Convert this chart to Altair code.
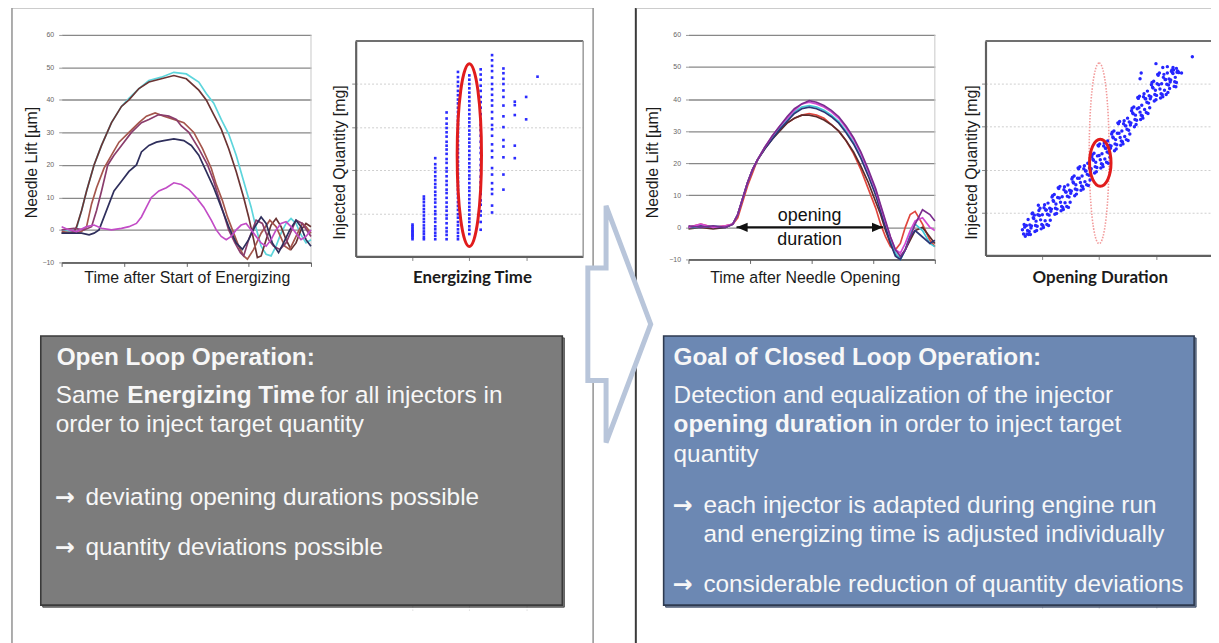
import altair as alt
import pandas as pd

# ------------------------------------------------------------------ data
# Open loop: needle lift traces of five injectors (t = % of displayed window, lift in µm)
LL_CYAN_T = [0, 4, 6, 8, 10, 13, 16, 20, 24, 27, 31, 35, 40, 45, 50, 55, 58, 61, 64, 67, 70, 73, 76, 78, 80, 82, 84, 86, 88, 90, 92, 94, 96, 98, 100]
LL_CYAN_V = [0, -0.5, 0.5, 6, 12, 20, 26, 33, 38, 40.5, 43.5, 46, 47, 48.5, 48, 45.5, 42, 39, 34, 29.5, 23, 15, 7, 0.5, -5, -7.5, -8, -5, -1, 2, 3.5, 2, -1.5, -4, -3]
LL_BROWN_T = [0, 3, 5, 6, 8, 10, 13, 16, 20, 24, 27, 31, 35, 40, 45, 50, 55, 58, 61, 64, 67, 70, 73, 75, 77, 78.5, 80, 82, 84, 86, 88, 90, 92, 94, 96, 98, 100]
LL_BROWN_V = [-1, -1, -0.5, 1, 6, 12, 20, 26, 33, 38, 40, 43.5, 45.5, 46.5, 47.5, 46.5, 43, 40, 35.5, 31, 25, 18, 10, 4, -3, -8.5, -8, -3, 1.5, 3.5, 1, -3, -6, -4, 0, 2, 1]
LL_RED_T = [0, 5, 8, 10, 12, 14, 17, 20, 23, 27, 31, 34, 37.5, 41, 45, 49, 53, 56.5, 60, 62, 64.5, 66.5, 68.5, 71, 73, 74.5, 77, 80, 83.5, 86, 89.5, 91.5, 94, 96.5, 98, 100]
LL_RED_V = [-0.5, -1, -0.5, 1, 8, 13, 19, 23, 27, 30, 33, 35, 36, 35, 34, 33, 30, 25, 19, 14, 9, 4, 0, -5, -8, -9, -6, -1, 3, 1, -5, -6, -2, 2, 1, -1]
LL_PURPLE_T = [0, 5, 9, 12, 14, 16, 18.5, 21, 24, 28, 32, 35, 39, 43, 46, 48, 51, 55, 58.5, 61, 63, 65, 67, 69.5, 71.7, 73, 75, 78, 80.5, 83, 85, 87.5, 90, 94, 96.5, 100]
LL_PURPLE_V = [0, 0.5, 0, 1, 6, 12, 20, 23, 26, 30, 33, 34, 35.5, 35, 34, 32, 30, 25, 20, 15, 10, 5, 0, -4, -7, -8, -3, 3, 2, -3, -5, -6, -4, 3, 2, -2]
LL_NAVY_T = [0, 5, 8, 11, 13, 15, 17, 19, 21, 24, 27, 30, 32, 35, 38, 41, 45, 49, 52, 55, 58, 61, 64, 67, 70, 72.5, 75, 77.5, 80, 82, 84.5, 87, 89, 91.5, 94, 96, 98, 100]
LL_NAVY_V = [-1, -1, -1, -1.5, -1, 0, 4, 8, 12, 15, 18, 20, 24, 26, 27, 27.5, 28, 27.5, 26, 23, 18, 13, 7, 1, -4, -6, -3, 1, 4, 2, -4, -7, -4, 0, 3, 1, -3, -5]
LL_MAGENTA_T = [0, 3, 6, 10, 13, 16, 20, 24, 27, 30, 32, 34, 36, 39, 42, 45, 48, 51, 54, 57, 60, 62, 64, 66, 68, 70, 72, 74, 76, 78, 80, 82, 84, 86, 88, 90, 92, 94, 96, 98, 100]
LL_MAGENTA_V = [1, 0, -0.5, 1, 1.5, 0.5, 0, 0.5, 1, 2, 4, 7, 10, 12, 13, 14.5, 14, 12.5, 10, 7, 3, 0, -2, -3, -2, 0, 1.5, 2, 0, -2, -4, -5, -3, 0, 2, 2.5, 1, -1, -3, -2, 0]

# Closed loop: needle lift traces after needle opening
RL_T = [0, 5, 10, 15, 18, 20, 22, 24, 26, 28, 31, 34, 37, 40, 43, 46, 49, 52, 55, 58, 61, 64, 67, 70, 73, 76, 78, 80, 82, 84, 86, 88, 90, 92, 95, 98, 100]
RL_RED_V = [0, 1, 0, 0.5, 1, 3, 8, 13, 17, 21, 25, 28, 30.5, 32.5, 34, 35, 35.5, 35, 34, 32, 30, 27, 23, 18, 12, 6, 1, -3, -6, -7, -5, 0, 4, 5, 1, -4, -6]
RL_BROWN_V = [-0.5, 0, -0.5, 0, 1, 4, 9, 14, 18, 21, 24.5, 27.5, 30, 32.5, 34, 35, 35, 34.5, 33.5, 32, 30, 27, 23.5, 19, 14, 8, 4, -1, -5, -8.5, -9.5, -7, -4, -1, 0, -3, -5]
RL_PURPLE_V = [0.5, 0, 0.5, 0, 1, 4, 9, 14, 18, 21, 25, 28.5, 31.5, 34.5, 37, 38.5, 39.5, 39, 38, 36.5, 34.5, 31.5, 28, 23.5, 18, 12, 7, 2, -3, -7, -9, -7, -3, 1, 5.5, 4, 2]
RL_MAGENTA_V = [0, 1, 0, 0.5, 1, 4, 9, 14, 18, 21, 25, 28.5, 31.5, 34, 36.5, 38.5, 39, 38.5, 37.5, 36, 34, 31, 27.5, 23, 17.5, 11.5, 6.5, 1.5, -3, -7, -8, -5, -1, 2, 3, 0, -1]
RL_CYAN_V = [0, 0, 0.5, 0, 1, 4, 9, 14, 18, 21, 25, 28, 31, 33.5, 36, 37.5, 38, 37.5, 36.5, 35, 33, 30, 26.5, 22, 17, 11, 6, 1, -4, -8, -10, -7, -2, 1, -1, -5, -6]
RL_NAVY_V = [0, 0.5, 0, 0, 1, 4, 9, 14, 18, 21, 24.5, 27.5, 30.5, 33, 35.5, 37, 37.5, 37, 36, 34.5, 32.5, 29.5, 26, 21.5, 16, 10, 5, 0, -5, -9, -10, -7, -3, -1, -3, -5, -4]
OD_START = [19.5]   # opening duration start (t)
OD_END = [79.0]     # opening duration end (t)

# Open loop: injected quantity vs energizing time (columns of measurements)
LS_COL_X = [1.0, 1.2, 1.4, 1.6, 1.8, 2.0, 2.2, 2.4, 2.6, 2.8, 3.0, 3.2]
LS_COL_Y = [
    [0.40, 0.44, 0.47, 0.50, 0.53, 0.56, 0.59, 0.62, 0.66, 0.70, 0.74],
    [0.40, 0.45, 0.52, 0.58, 0.65, 0.72, 0.80, 0.87, 0.95, 1.03, 1.10, 1.18, 1.26, 1.33, 1.39],
    [0.40, 0.48, 0.55, 0.63, 0.70, 0.80, 0.88, 0.98, 1.05, 1.15, 1.25, 1.33, 1.42, 1.50, 1.60, 1.68, 1.77, 1.86, 1.96, 2.05, 2.14, 2.28],
    [0.40, 0.50, 0.58, 0.66, 0.77, 0.88, 0.96, 1.06, 1.15, 1.25, 1.36, 1.47, 1.55, 1.66, 1.75, 1.86, 1.97, 2.05, 2.17, 2.26, 2.38, 2.48, 2.57, 2.66, 2.78, 2.88, 2.98, 3.08, 3.20, 3.34],
    [0.40, 0.47, 0.55, 0.63, 0.72, 0.80, 0.90, 0.98, 1.08, 1.17, 1.26, 1.36, 1.45, 1.55, 1.64, 1.73, 1.83, 1.92, 2.02, 2.11, 2.20, 2.30, 2.40, 2.49, 2.58, 2.68, 2.78, 2.87, 2.96, 3.06, 3.15, 3.25, 3.35, 3.45, 3.55, 3.64, 3.74, 3.84, 3.95, 4.05, 4.16, 4.28],
    [0.52, 0.62, 0.70, 0.80, 0.88, 0.97, 1.07, 1.15, 1.24, 1.33, 1.42, 1.52, 1.60, 1.70, 1.80, 1.88, 1.98, 2.07, 2.16, 2.26, 2.35, 2.45, 2.55, 2.64, 2.73, 2.83, 2.92, 3.02, 3.11, 3.20, 3.30, 3.40, 3.50, 3.60, 3.70, 3.80, 3.90, 4.00, 4.10, 4.20],
    [0.62, 0.80, 0.95, 1.05, 1.20, 1.30, 1.45, 1.60, 1.72, 1.85, 2.00, 2.12, 2.25, 2.40, 2.52, 2.66, 2.80, 2.93, 3.05, 3.18, 3.30, 3.45, 3.58, 3.70, 3.84, 3.96, 4.10, 4.22, 4.34],
    [1.02, 1.18, 1.45, 1.56, 1.70, 1.90, 2.05, 2.30, 2.45, 2.60, 2.80, 2.95, 3.05, 3.20, 3.35, 3.50, 3.62, 3.75, 3.88, 4.00, 4.15, 4.30, 4.42, 4.55, 4.67],
    [1.55, 1.90, 2.30, 2.55, 2.70, 3.00, 3.25, 3.50, 3.70, 3.85, 4.00, 4.12, 4.25, 4.36],
    [2.28, 2.57, 3.28, 3.51, 3.59],
    [3.18, 3.70],
    [4.17],
]
LS_SPREAD_X = [2.0]   # highlighted spread at one energizing time
LS_SPREAD_Y = [2.35]

# Closed loop: injected quantity vs opening duration
RS_X = [0.65, 0.70, 0.75, 0.80, 0.85, 0.90, 0.95, 1.00, 1.05, 1.10, 1.15, 1.20, 1.25, 1.30, 1.35, 1.40, 1.45, 1.50, 1.55, 1.60,
        1.65, 1.70, 1.75, 1.80, 1.85, 1.90, 1.95, 2.00, 2.05, 2.10, 2.15, 2.20, 2.25, 2.30, 2.35, 2.40, 2.45, 2.50, 2.55, 2.60,
        2.65, 2.70, 2.75, 2.80, 2.85, 2.90, 2.95, 3.00, 3.05, 3.10, 3.15, 3.20, 3.25, 3.30, 3.35, 3.40, 3.45,
        0.67, 0.72, 0.77, 0.82, 0.87, 0.92, 0.97, 1.02, 1.07, 1.12, 1.17, 1.22, 1.27, 1.32, 1.37, 1.42, 1.47, 1.52, 1.57, 1.62,
        1.67, 1.72, 1.77, 1.82, 1.87, 1.92, 1.97, 2.02, 2.07, 2.12, 2.17, 2.22, 2.27, 2.32, 2.37, 2.42, 2.47, 2.52, 2.57, 2.62,
        2.67, 2.72, 2.77, 2.82, 2.87, 2.92, 2.97, 3.02, 3.07, 3.12, 3.17, 3.22, 3.27, 3.32, 3.37,
        0.68, 0.73, 0.78, 0.83, 0.88, 0.93, 0.98, 1.03, 1.08, 1.13, 1.18, 1.23, 1.28, 1.33, 1.38, 1.43, 1.48, 1.53, 1.58, 1.63,
        1.68, 1.73, 1.78, 1.83, 1.88, 1.93, 1.98, 2.03, 2.08, 2.13, 2.18, 2.23, 2.28, 2.33, 2.38, 2.43, 2.48, 2.53, 2.58, 2.63,
        2.68, 2.73, 2.78, 2.83, 2.88, 2.93, 2.98, 3.03, 3.08, 3.13, 3.18, 3.23, 3.28, 3.33, 3.38,
        0.76, 0.81, 0.86, 0.91, 0.96, 1.01, 1.06, 1.11, 1.16, 1.21, 1.26, 1.31, 1.36, 1.41, 1.46, 1.51, 1.56, 1.61, 1.66, 1.71,
        1.76, 1.81, 1.86, 1.91, 1.96, 2.01, 2.06, 2.11, 2.16, 2.21, 2.26, 2.31, 2.36, 2.41, 2.46, 2.51, 2.56, 2.61, 2.66, 2.71,
        2.76, 2.81, 2.86, 2.91, 2.96, 3.01, 3.06, 3.11, 3.16, 3.21, 3.26, 3.31, 3.36,
        0.69, 0.74, 0.79, 0.84, 0.89, 0.94, 0.99, 1.04, 1.09, 1.14, 1.19, 1.24, 1.29, 1.34, 1.39, 1.44, 1.49, 1.54, 1.59, 1.64,
        1.69, 1.74, 1.79, 1.84, 1.89, 1.94, 1.99, 2.04, 2.09, 2.14, 2.19, 2.24, 2.29, 2.34, 2.39, 2.44, 2.49, 2.54, 2.59, 2.64,
        2.69, 2.74, 2.79, 2.84, 2.89, 2.94, 2.99, 3.04, 3.09, 3.14, 3.19, 3.24, 3.29, 3.34, 3.39,
        2.72, 2.74, 3.00, 3.12, 3.20, 3.30, 3.36, 3.64]
RS_Y = [0.60, 0.45, 0.84, 0.64, 0.86, 0.58, 0.93, 0.95, 0.81, 1.22, 1.03, 1.26, 0.98, 1.34, 1.37, 1.23, 1.64, 1.45, 1.69, 1.43,
        1.80, 1.85, 1.72, 2.15, 1.97, 2.22, 1.95, 2.33, 2.37, 2.25, 2.67, 2.50, 2.74, 2.48, 2.85, 2.90, 2.77, 3.20, 3.04, 3.30,
        3.05, 3.44, 3.50, 3.40, 3.83, 3.65, 3.90, 3.63, 3.98, 4.00, 3.85, 4.25, 4.04, 4.24, 3.93, 4.26, 4.25,
        0.50, 0.70, 0.56, 0.97, 0.56, 0.95, 0.83, 0.65, 1.06, 0.94, 1.36, 0.96, 1.35, 1.24, 1.07, 1.48, 1.36, 1.78, 1.39, 1.80,
        1.70, 1.55, 1.97, 1.87, 2.30, 1.92, 2.32, 2.23, 2.07, 2.50, 2.39, 2.83, 2.44, 2.85, 2.75, 2.60, 3.02, 2.92, 3.37, 3.00,
        3.42, 3.34, 3.20, 3.65, 3.55, 3.98, 3.60, 4.00, 3.88, 3.70, 4.10, 3.97, 4.29, 3.94, 4.27,
        0.72, 0.50, 0.71, 0.99, 0.70, 1.17, 0.62, 1.11, 0.72, 1.10, 1.39, 1.10, 1.58, 1.04, 1.53, 1.14, 1.52, 1.82, 1.55, 2.04,
        1.52, 2.02, 1.65, 2.04, 2.35, 2.07, 2.57, 2.04, 2.55, 2.17, 2.57, 2.87, 2.60, 3.09, 2.57, 3.07, 2.70, 3.11, 3.43, 3.17,
        3.68, 3.17, 3.70, 3.33, 3.72, 4.03, 3.75, 4.22, 3.67, 4.15, 3.75, 4.11, 4.32, 4.05, 4.30,
        0.49, 0.69, 0.94, 0.68, 1.10, 0.70, 1.06, 0.70, 1.08, 1.42, 1.08, 1.61, 1.12, 1.48, 1.12, 1.50, 1.85, 1.53, 2.07, 1.60,
        1.97, 1.63, 2.02, 2.38, 2.05, 2.60, 2.12, 2.50, 2.15, 2.55, 2.90, 2.58, 3.12, 2.65, 3.02, 2.68, 3.09, 3.46, 3.15, 3.71,
        3.25, 3.65, 3.31, 3.70, 4.06, 3.73, 4.25, 3.75, 4.10, 3.80, 4.09, 4.32, 4.03,
        0.66, 0.58, 0.49, 0.88, 0.80, 1.05, 0.72, 1.18, 0.96, 0.82, 1.28, 1.20, 1.56, 1.14, 1.60, 1.38, 1.24, 1.71, 1.65, 2.02,
        1.62, 2.09, 1.89, 1.76, 2.24, 2.17, 2.55, 2.14, 2.62, 2.41, 2.29, 2.76, 2.70, 3.07, 2.67, 3.14, 2.94, 2.83, 3.32, 3.27,
        3.66, 3.27, 3.77, 3.57, 3.44, 3.92, 3.85, 4.20, 3.77, 4.22, 3.99, 3.89, 4.26, 4.15, 4.28,
        4.12, 4.25, 4.47, 4.38, 4.40, 4.38, 4.36, 4.63]
RS_TARGET_X = [2.02]   # equalized spread
RS_TARGET_Y = [2.16]
RS_OPEN_X = [2.0]      # previous (open loop) spread
RS_OPEN_Y = [2.38]

# ------------------------------------------------------------------ layout helpers
PAGE = 8
W, H = 1211, 635
FONT = "Liberation Sans"
ARROW_FONT = "DejaVu Sans"


def X(p):
    return p - PAGE


def Y(p):
    return p - PAGE


ONE = pd.DataFrame({"k": [0]})


def rect(x0, y0, x1, y1, fill, stroke, sw, fill_opacity=1.0):
    return alt.Chart(ONE).mark_rect(fill=fill, fillOpacity=fill_opacity, stroke=stroke, strokeWidth=sw).encode(
        x=alt.value(X(x0)), x2=alt.value(X(x1)), y=alt.value(Y(y0)), y2=alt.value(Y(y1)))


def hrule(x0, x1, y, color, sw):
    return alt.Chart(ONE).mark_rule(color=color, strokeWidth=sw).encode(
        x=alt.value(X(x0)), x2=alt.value(X(x1)), y=alt.value(Y(y)))


def vrule(x, y0, y1, color, sw):
    return alt.Chart(ONE).mark_rule(color=color, strokeWidth=sw).encode(
        x=alt.value(X(x)), y=alt.value(Y(y0)), y2=alt.value(Y(y1)))


def txt(s, x, y, size=24.5, bold=False, color="#f7f7f7", font=FONT, align="left"):
    return alt.Chart(ONE).mark_text(align=align, baseline="middle", font=font, fontSize=size,
                                    fontWeight="bold" if bold else "normal", color=color).encode(
        x=alt.value(X(x)), y=alt.value(Y(y)), text=alt.value(s))


def lift_scales(x0, x1, ytop, ybot):
    xsc = alt.Scale(domain=[0, 100], range=[X(x0), X(x1)], nice=False, zero=False)
    ysc = alt.Scale(domain=[-10, 60], range=[Y(ybot), Y(ytop)], nice=False, zero=False, clamp=True)
    return xsc, ysc


def lift_chart(series, x0, x1, ytop, ybot, xtitle, xtitle_cx, ytitle_x, ytitle_cy):
    rows = []
    for name, ts, vs, _ in series:
        for t, v in zip(ts, vs):
            rows.append({"s": name, "t": t, "v": v})
    df = pd.DataFrame(rows)
    xsc, ysc = lift_scales(x0, x1, ytop, ybot)
    xax = alt.Axis(orient="bottom", offset=Y(ybot) - H, values=[0, 25, 50, 75, 100], labels=False,
                   ticks=True, tickSize=4, tickColor="#666", domainColor="#555", domainWidth=1.5, grid=False,
                   title=xtitle, titleFont=FONT, titleFontSize=16, titleFontWeight="normal", titleColor="#1b1b1b",
                   titleX=X(xtitle_cx), titleY=277 - ybot, titleAlign="center", titleBaseline="middle")
    yax = alt.Axis(orient="left", offset=-X(x0), values=list(range(-10, 61, 10)), labelFontSize=7,
                   labelColor="#666", labelFont=FONT, labelPadding=5, tickSize=3, tickColor="#999",
                   domain=False, grid=True, gridColor="#888888", gridWidth=1.3,
                   title="Needle Lift [µm]", titleFont=FONT, titleFontSize=16, titleFontWeight="normal",
                   titleColor="#1b1b1b", titleX=ytitle_x - x0, titleY=Y(ytitle_cy), titleAngle=270,
                   titleAlign="center", titleBaseline="middle")
    return alt.Chart(df).mark_line(strokeWidth=1.7).encode(
        x=alt.X("t:Q", scale=xsc, axis=xax),
        y=alt.Y("v:Q", scale=ysc, axis=yax),
        color=alt.Color("s:N", scale=alt.Scale(domain=[s[0] for s in series], range=[s[3] for s in series]),
                        legend=None),
    )


def scatter_scales(x0, ytop, ybot):
    xsc = alt.Scale(domain=[0, 4], range=[X(x0), X(x0 + 4 * 57.2)], nice=False, zero=False)
    ysc = alt.Scale(domain=[0, 5], range=[Y(ybot), Y(ytop)], nice=False, zero=False)
    return xsc, ysc


def scatter_axes(x0, ybot, xtitle, xtitle_cx, ytitle_x, ytitle_cy):
    xax = alt.Axis(orient="bottom", offset=Y(ybot) - H, values=[1, 2, 3], labels=False, tickSize=4,
                   tickColor="#888", domainColor="#606060", domainWidth=2.2, grid=True, gridColor="#cfcfcf",
                   gridDash=[2, 2], gridWidth=1, title=xtitle, titleFont="Lato", titleFontSize=17,
                   titleFontWeight="bold", titleColor="#1b1b1b", titleX=X(xtitle_cx), titleY=277 - ybot,
                   titleAlign="center", titleBaseline="middle")
    yax = alt.Axis(orient="left", offset=-X(x0), values=[1, 2, 3, 4], labels=False, tickSize=4,
                   tickColor="#888", domainColor="#606060", domainWidth=2.2, grid=True, gridColor="#cfcfcf",
                   gridDash=[2, 2], gridWidth=1, title="Injected Quantity [mg]", titleFont=FONT,
                   titleFontSize=16, titleFontWeight="normal", titleColor="#1b1b1b", titleX=ytitle_x - x0,
                   titleY=Y(ytitle_cy), titleAngle=270, titleAlign="center", titleBaseline="middle")
    return xax, yax


def ellipse_path(ratio):
    return f"M0,-1 A{ratio},1 0 1,1 0,1 A{ratio},1 0 1,1 0,-1 Z"


# ------------------------------------------------------------------ left line chart
LL = lift_chart(
    [("cyan", LL_CYAN_T, LL_CYAN_V, "#5dd5dc"),
     ("brown", LL_BROWN_T, LL_BROWN_V, "#6b3434"),
     ("red", LL_RED_T, LL_RED_V, "#a5564c"),
     ("purple", LL_PURPLE_T, LL_PURPLE_V, "#8a3d6c"),
     ("navy", LL_NAVY_T, LL_NAVY_V, "#2f2f5c"),
     ("magenta", LL_MAGENTA_T, LL_MAGENTA_V, "#c24cc6")],
    62, 313, 33, 262, "Time after Start of Energizing", 188, 32, 161)

# ------------------------------------------------------------------ right line chart
RL = lift_chart(
    [("red", RL_T, RL_RED_V, "#e0473e"),
     ("brown", RL_T, RL_BROWN_V, "#5c2b2b"),
     ("cyan", RL_T, RL_CYAN_V, "#41c7d6"),
     ("navy", RL_T, RL_NAVY_V, "#2c3677"),
     ("magenta", RL_T, RL_MAGENTA_V, "#d24ad2"),
     ("purple", RL_T, RL_PURPLE_V, "#7b2d8e")],
    693, 941, 33, 259, "Time after Needle Opening", 810, 657, 161)
rxs, rys = lift_scales(693, 941, 33, 259)
od = pd.DataFrame({"t0": OD_START, "t1": OD_END, "v": [0] * len(OD_START)})
od_rule = alt.Chart(od).mark_rule(color="#111", strokeWidth=2).encode(
    x=alt.X("t0:Q", scale=rxs, axis=None), x2="t1:Q", y=alt.Y("v:Q", scale=rys, axis=None))
od_l = alt.Chart(od).mark_point(shape="M0,0 L1,-0.42 L1,0.42 Z", size=500, filled=True, color="#111",
                                opacity=1).encode(x=alt.X("t0:Q", scale=rxs, axis=None),
                                                  y=alt.Y("v:Q", scale=rys, axis=None))
od_r = alt.Chart(od).mark_point(shape="M0,0 L-1,-0.42 L-1,0.42 Z", size=500, filled=True, color="#111",
                                opacity=1).encode(x=alt.X("t1:Q", scale=rxs, axis=None),
                                                  y=alt.Y("v:Q", scale=rys, axis=None))

# ------------------------------------------------------------------ left scatter
ls_rows = []
for cx, col in zip(LS_COL_X, LS_COL_Y):
    for v in col:
        ls_rows.append({"x": cx, "y": v})
ls_df = pd.DataFrame(ls_rows)
lxs, lys = scatter_scales(358, 39, 256)
lxa, lya = scatter_axes(358, 256, "Energizing Time", 475, 342, 161)
ls_pts = alt.Chart(ls_df).mark_square(size=7, color="#2b2bff", opacity=1).encode(
    x=alt.X("x:Q", scale=lxs, axis=lxa), y=alt.Y("y:Q", scale=lys, axis=lya))
ls_ell = alt.Chart(pd.DataFrame({"x": LS_SPREAD_X, "y": LS_SPREAD_Y})).mark_point(
    shape=ellipse_path(0.133), size=184 ** 2, filled=False, color="#e11c1c", strokeWidth=3, opacity=1).encode(
    x=alt.X("x:Q", scale=lxs, axis=None), y=alt.Y("y:Q", scale=lys, axis=None))

# ------------------------------------------------------------------ right scatter
rs_df = pd.DataFrame({"x": RS_X, "y": RS_Y})
sxs, sys_ = scatter_scales(992, 39, 255)
sxa, sya = scatter_axes(992, 255, "Opening Duration", 1107, 978, 161)
rs_open = alt.Chart(pd.DataFrame({"x": RS_OPEN_X, "y": RS_OPEN_Y})).mark_point(
    shape=ellipse_path(0.11), size=182 ** 2, filled=False, color="#f29a9a", strokeWidth=1.6,
    strokeDash=[1.5, 1.5], opacity=1).encode(
    x=alt.X("x:Q", scale=sxs, axis=None), y=alt.Y("y:Q", scale=sys_, axis=None))
rs_pts = alt.Chart(rs_df).mark_circle(size=12, color="#2626ff", opacity=1).encode(
    x=alt.X("x:Q", scale=sxs, axis=sxa), y=alt.Y("y:Q", scale=sys_, axis=sya))
rs_ell = alt.Chart(pd.DataFrame({"x": RS_TARGET_X, "y": RS_TARGET_Y})).mark_point(
    shape=ellipse_path(0.456), size=47.4 ** 2, filled=False, color="#e11c1c", strokeWidth=3, opacity=1).encode(
    x=alt.X("x:Q", scale=sxs, axis=None), y=alt.Y("y:Q", scale=sys_, axis=None))

# ------------------------------------------------------------------ decoration
decor = [
    rect(12, 5, 597, 700, "white", "#8a8a8a", 1.4, 0),
    rect(640, 5, 1260, 700, "white", "#3a3a3a", 2, 0),
    hrule(12, 597, 5, "#9a9a9a", 3),
    hrule(640, 1219, 5, "#9a9a9a", 3),
    # plot frames
    vrule(313, 33, 262, "#c8c8c8", 1),
    vrule(941, 33, 259, "#c8c8c8", 1),
    hrule(358, 587, 39, "#707070", 2),
    vrule(587, 39, 256, "#9a9a9a", 1.5),
    hrule(992, 1219, 39, "#707070", 2),
    # text boxes
    rect(43, 338, 568, 609, "#4a4a4a", "#4a4a4a", 1, 0.7),
    rect(41, 336, 566, 607, "#7c7c7c", "#3a3a3a", 1.6),
    rect(670, 338, 1204, 609, "#3d4e6a", "#3d4e6a", 1, 0.7),
    rect(668, 336, 1202, 607, "#6c88b3", "#2e3a50", 1.6),
]

ARR = "\u2192"
texts = [
    txt("Open Loop Operation:", 57, 358, bold=True),
    txt("Same", 56, 397),
    txt("Energizing Time", 128, 397, bold=True),
    txt("for all injectors in", 322, 397),
    txt("order to inject target quantity", 56, 426),
    txt(ARR, 55, 499, size=24, bold=True, font=ARROW_FONT),
    txt("deviating opening durations possible", 86, 499),
    txt(ARR, 55, 550, size=24, bold=True, font=ARROW_FONT),
    txt("quantity deviations possible", 86, 550),
    txt("Goal of Closed Loop Operation:", 678, 358, bold=True),
    txt("Detection and equalization of the injector", 678, 397),
    txt("opening duration", 678, 426, bold=True),
    txt("in order to inject target", 885, 426),
    txt("quantity", 678, 456),
    txt(ARR, 677, 507, size=24, bold=True, font=ARROW_FONT),
    txt("each injector is adapted during engine run", 708, 507),
    txt("and energizing time is adjusted individually", 708, 536),
    txt(ARR, 677, 587, size=24, bold=True, font=ARROW_FONT),
    txt("considerable reduction of quantity deviations", 708, 587),
    txt("opening", 815, 215, size=18, color="#111", align="center"),
    txt("duration", 815, 239, size=18, color="#111", align="center"),
]

ARROW = "M-0.266,-0.475 L-0.112,-0.475 L-0.112,-1 L0.265,0 L-0.112,1 L-0.112,0.475 L-0.266,0.475 Z"
arrow = alt.Chart(ONE).mark_point(shape=ARROW, size=238.4 ** 2, filled=True, fill="white", fillOpacity=1,
                                  stroke="#b8c5da", strokeWidth=5, opacity=1).encode(
    x=alt.value(X(623.4)), y=alt.value(Y(324.2)))

chart = alt.layer(
    *decor, LL, RL, od_rule, od_l, od_r, ls_pts, ls_ell, rs_open, rs_pts, rs_ell, *texts, arrow
).resolve_scale(
    x="independent", y="independent", color="independent"
).resolve_axis(x="independent", y="independent").properties(
    width=W, height=H, autosize="none", padding=0, background="white"
).configure_view(strokeWidth=0)

chart.save("out.html", embed_options={"renderer": "svg", "actions": False})
